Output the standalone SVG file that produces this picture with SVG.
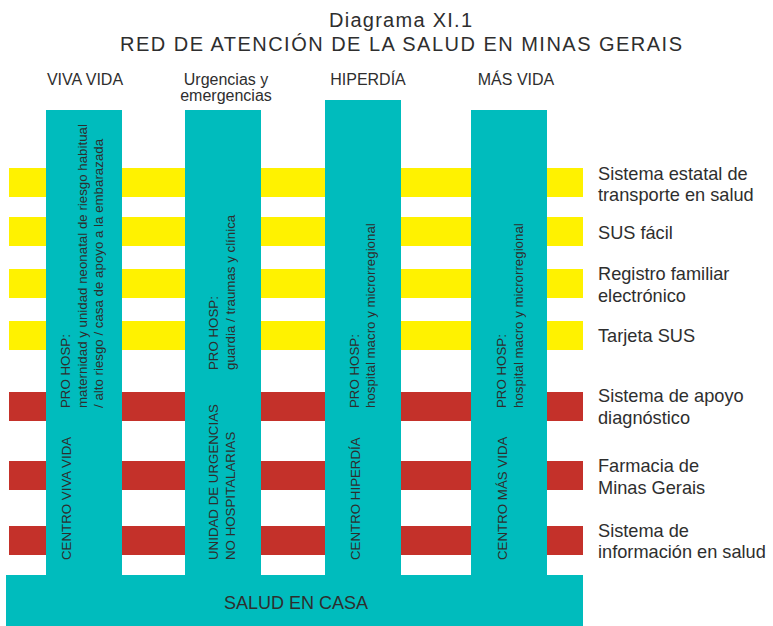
<svg xmlns="http://www.w3.org/2000/svg" width="773" height="626" viewBox="0 0 773 626">
<style>
  .bg{fill:#ffffff}
  .col{fill:#00bcbd}
  .yel{fill:#fff200}
  .red{fill:#c4312a}
  .t{font-family:"Liberation Sans",Arial,sans-serif;fill:#2e2e2e}
  .title{font-size:20px;text-anchor:middle}
  .hdr{font-size:16px;text-anchor:middle}
  .lbl{font-size:18.2px}
  .vt{font-size:13.3px}
  .base{font-size:18px;text-anchor:middle}
</style>
<rect class="bg" x="0" y="0" width="773" height="626"/>

<g id="title">
  <text class="t title" x="400.5" y="27" textLength="143" lengthAdjust="spacing">Diagrama XI.1</text>
  <text class="t title" x="401" y="51" textLength="562" lengthAdjust="spacing">RED DE ATENCIÓN DE LA SALUD EN MINAS GERAIS</text>
</g>

<g id="stripes">
  <g id="s1"><rect class="yel" x="9" y="168" width="574" height="29"/><text class="t lbl" x="598" y="180">Sistema estatal de</text><text class="t lbl" x="598" y="201">transporte en salud</text></g>
  <g id="s2"><rect class="yel" x="9" y="217" width="574" height="29"/><text class="t lbl" x="598" y="239">SUS fácil</text></g>
  <g id="s3"><rect class="yel" x="9" y="269" width="574" height="29"/><text class="t lbl" x="598" y="280">Registro familiar</text><text class="t lbl" x="598" y="302">electrónico</text></g>
  <g id="s4"><rect class="yel" x="9" y="321" width="574" height="29"/><text class="t lbl" x="598" y="342">Tarjeta SUS</text></g>
  <g id="s5"><rect class="red" x="9" y="392" width="574" height="29"/><text class="t lbl" x="598" y="402">Sistema de apoyo</text><text class="t lbl" x="598" y="424">diagnóstico</text></g>
  <g id="s6"><rect class="red" x="9" y="461" width="574" height="29"/><text class="t lbl" x="598" y="472">Farmacia de</text><text class="t lbl" x="598" y="494">Minas Gerais</text></g>
  <g id="s7"><rect class="red" x="9" y="526" width="574" height="29"/><text class="t lbl" x="598" y="537">Sistema de</text><text class="t lbl" x="598" y="558">información en salud</text></g>
</g>

<g id="connectors"></g>

<g id="col-viva-vida">
  <text class="t hdr" x="85" y="85">VIVA VIDA</text>
  <rect class="col" x="46" y="110" width="76" height="470"/>
  <text class="t vt" transform="translate(70,408) rotate(-90)"><tspan x="0" y="0">PRO HOSP:</tspan><tspan x="0" y="16.5">maternidad y unidad neonatal de riesgo habitual</tspan><tspan x="0" y="32.5">/ alto riesgo / casa de apoyo a la embarazada</tspan></text>
  <text class="t vt" transform="translate(70.5,560) rotate(-90)">CENTRO VIVA VIDA</text>
</g>

<g id="col-urgencias">
  <text class="t hdr" x="226" y="85">Urgencias y</text>
  <text class="t hdr" x="226" y="101">emergencias</text>
  <rect class="col" x="185" y="110" width="76" height="470"/>
  <text class="t vt" transform="translate(218,370) rotate(-90)"><tspan x="0" y="0">PRO HOSP:</tspan><tspan x="0" y="16.5">guardia / traumas y clínica</tspan></text>
  <text class="t vt" transform="translate(218,560) rotate(-90)"><tspan x="0" y="0">UNIDAD DE URGENCIAS</tspan><tspan x="0" y="16.5">NO HOSPITALARIAS</tspan></text>
</g>

<g id="col-hiperdia">
  <text class="t hdr" x="368" y="85">HIPERDÍA</text>
  <rect class="col" x="325" y="100" width="76" height="480"/>
  <text class="t vt" transform="translate(359,408) rotate(-90)"><tspan x="0" y="0">PRO HOSP:</tspan><tspan x="0" y="16">hospital macro y microrregional</tspan></text>
  <text class="t vt" transform="translate(360,560) rotate(-90)">CENTRO HIPERDÍA</text>
</g>

<g id="col-mas-vida">
  <text class="t hdr" x="516" y="85">MÁS VIDA</text>
  <rect class="col" x="471" y="110" width="76" height="470"/>
  <text class="t vt" transform="translate(506,408) rotate(-90)"><tspan x="0" y="0">PRO HOSP:</tspan><tspan x="0" y="16.5">hospital macro y microrregional</tspan></text>
  <text class="t vt" transform="translate(506.5,560) rotate(-90)">CENTRO MÁS VIDA</text>
</g>

<g id="salud-en-casa">
  <rect class="col" x="6" y="575" width="577" height="51"/>
  <text class="t base" x="296" y="608.5">SALUD EN CASA</text>
</g>
</svg>
